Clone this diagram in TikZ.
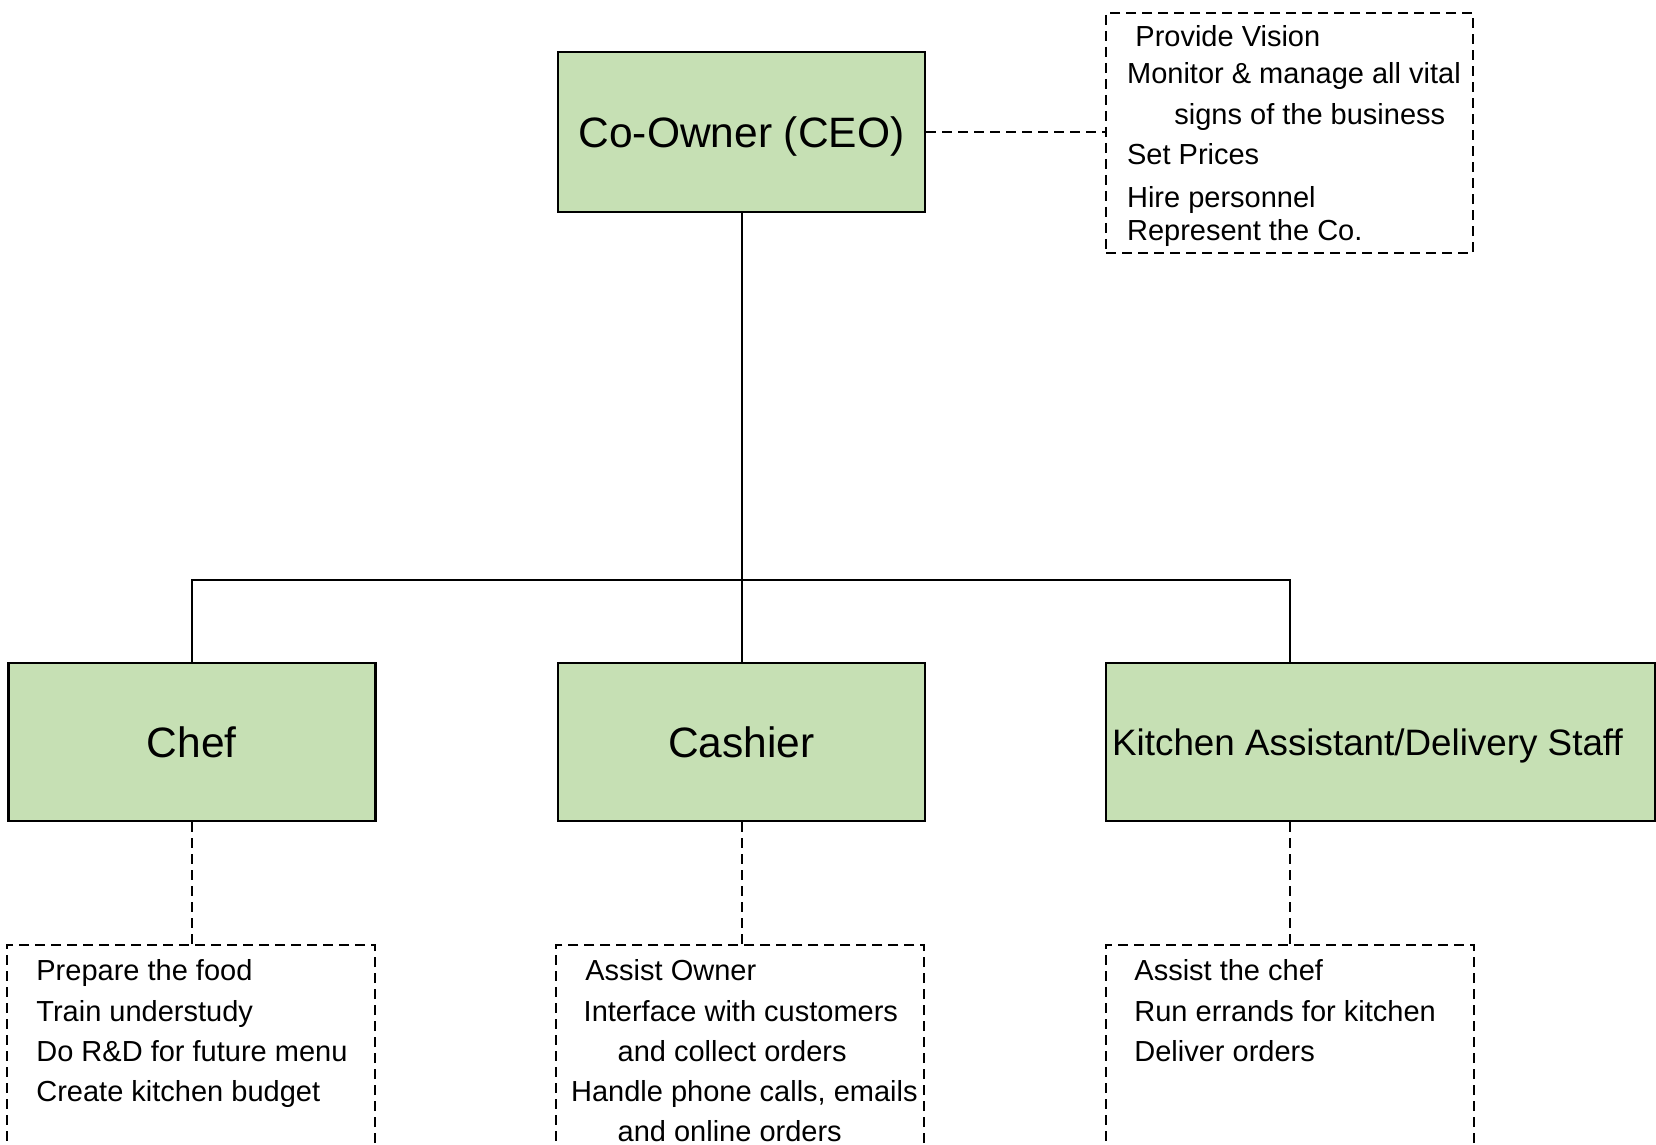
\documentclass[tikz,border=0pt]{standalone}
\usepackage{fontspec}
\setmainfont{Liberation Sans}
\usepackage{xcolor}
\usepackage{tikz}
\usetikzlibrary{positioning}

\definecolor{RoleGreen}{RGB}{198,224,180}

\tikzset{
    role/.style={draw, line width=1.3pt, fill=RoleGreen, inner sep=0pt,
        minimum width=183.5pt, minimum height=79pt, text depth=0pt,
        font=\fontsize{21.25}{25}\selectfont},
    tasks/.style={draw, line width=1pt, dash pattern=on 5pt off 3pt,
        inner sep=0pt, minimum width=184pt},
    taskline/.style={anchor=base west, inner sep=0pt,
        font=\fontsize{14.5}{17}\selectfont},
    tree/.style={line width=1pt},
    link/.style={line width=1pt, dash pattern=on 5pt off 3pt}
}

\begin{document}
\begin{tikzpicture}[x=0.5pt, y=-0.5pt]

    % =================================================================
    % 0. KHUNG HINH
    % =================================================================
    \useasboundingbox (0,0) rectangle (1656,1145);
    \clip (0,0) rectangle (1656,1145);

    % =================================================================
    % 1. CAC O CHUC VU
    % =================================================================
    \node[role, minimum height=80pt] (CEO) at (741.5,132) {Co-Owner (CEO)};
    \node[role] (Chef) at (191.7,742) {Chef};
    \node[role] (Cashier) at (741.5,742) {Cashier};
    \node[role, minimum width=274.5pt, font=\fontsize{18.4}{22}\selectfont]
        (Kitchen) at (1380.5,742) {\hspace*{-13pt}Kitchen Assistant/Delivery Staff};

    % Diem re nhanh
    \coordinate (Bus) at (741.5,580);

    % =================================================================
    % 2. CAC O NHIEM VU (NET DUT)
    % =================================================================
    \node[tasks, minimum width=183.5pt, minimum height=120pt] (CEOTasks) at (1289.5,133) {};
    \node[tasks, minimum height=115pt] (ChefTasks) at (191,1060) {};
    \node[tasks, minimum height=115pt] (CashierTasks) at (740.3,1060) {};
    \node[tasks, minimum height=115pt] (KitchenTasks) at (1289.8,1060) {};

    % =================================================================
    % 3. DUONG NOI
    % =================================================================
    \draw[tree] (CEO.south) -- (Cashier.north);
    \draw[tree] (Chef.north) |- (Bus) -| (Kitchen.north -| KitchenTasks.north);

    \draw[link] (CEO.east) -- (CEOTasks.west |- CEO.east);
    \draw[link] (Chef.south) -- (Chef.south |- ChefTasks.north);
    \draw[link] (Cashier.south) -- (Cashier.south |- CashierTasks.north);
    \draw[link] (Kitchen.south -| KitchenTasks.north) -- (KitchenTasks.north);

    % =================================================================
    % 4. NOI DUNG NHIEM VU
    % =================================================================
    \foreach \y/\x/\txt [count=\i] in {47/1135/Provide Vision,
        84/1126.7/Monitor \& manage all vital,
        125/1174/signs of the business,
        164.5/1126.7/Set Prices,
        207.5/1126.7/Hire personnel,
        240.5/1126.7/Represent the Co.}
        \node[taskline] (CEOLine\i) at (\x,\y) {\txt};

    \foreach \y/\txt [count=\i] in {980/Prepare the food,
        1021/Train understudy,
        1061/Do R\&D for future menu,
        1101/Create kitchen budget}
        \node[taskline] (ChefLine\i) at (36,\y) {\txt};

    \foreach \y/\x/\txt [count=\i] in {980/585/Assist Owner,
        1021/583.3/Interface with customers,
        1061/617.3/and collect orders,
        1101/570.7/{Handle phone calls, emails},
        1141/617.3/and online orders}
        \node[taskline] (CashierLine\i) at (\x,\y) {\txt};

    \foreach \y/\txt [count=\i] in {980/Assist the chef,
        1021/Run errands for kitchen,
        1061/Deliver orders}
        \node[taskline] (KitchenLine\i) at (1134,\y) {\txt};

\end{tikzpicture}
\end{document}
